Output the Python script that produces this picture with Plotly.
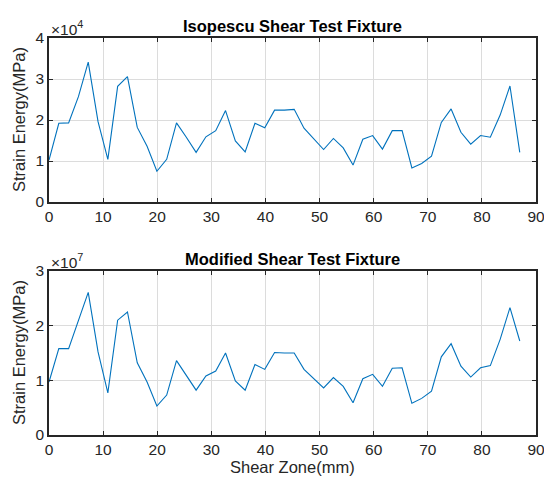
import plotly.graph_objects as go
from plotly.subplots import make_subplots

shear_zone = [0, 1.8125, 3.625, 5.4375, 7.25, 9.0625, 10.875, 12.6875, 14.5, 16.3125,
              18.125, 19.9375, 21.75, 23.5625, 25.375, 27.1875, 29.0, 30.8125, 32.625, 34.4375,
              36.25, 38.0625, 39.875, 41.6875, 43.5, 45.3125, 47.125, 48.9375, 50.75, 52.5625,
              54.375, 56.1875, 58.0, 59.8125, 61.625, 63.4375, 65.25, 67.0625, 68.875, 70.6875,
              72.5, 74.3125, 76.125, 77.9375, 79.75, 81.5625, 83.375, 85.1875, 87.0]

# Strain energy, Isopescu fixture (x 1e4 MPa)
isopescu_e4 = [1.02, 1.92, 1.93, 2.57, 3.41, 1.96, 1.04, 2.82, 3.06, 1.82,
               1.36, 0.75, 1.04, 1.93, 1.58, 1.21, 1.59, 1.74, 2.23, 1.49,
               1.22, 1.92, 1.81, 2.24, 2.24, 2.26, 1.80, 1.53, 1.28, 1.55,
               1.32, 0.90, 1.53, 1.62, 1.29, 1.74, 1.74, 0.83, 0.94, 1.12,
               1.94, 2.27, 1.70, 1.41, 1.62, 1.58, 2.12, 2.83, 1.21]

# Strain energy, modified fixture (x 1e7 MPa)
modified_e7 = [0.97, 1.58, 1.58, 2.10, 2.61, 1.52, 0.77, 2.10, 2.25, 1.32,
               0.97, 0.53, 0.73, 1.36, 1.09, 0.82, 1.08, 1.17, 1.50, 0.99,
               0.82, 1.29, 1.20, 1.51, 1.50, 1.50, 1.20, 1.03, 0.86, 1.05,
               0.89, 0.59, 1.03, 1.11, 0.89, 1.22, 1.23, 0.58, 0.67, 0.80,
               1.43, 1.67, 1.26, 1.06, 1.23, 1.27, 1.75, 2.33, 1.72]

x_ticks = [0, 10, 20, 30, 40, 50, 60, 70, 80, 90]
y1_ticks = [0, 1, 2, 3, 4]
y2_ticks = [0, 1, 2, 3]

titles = ["Isopescu Shear Test Fixture", "Modified Shear Test Fixture"]
ylabel = "Strain Energy(MPa)"
xlabel = "Shear Zone(mm)"

LINE = "#0072BD"
AX = "#262626"
GRID = "#dcdcdc"
FONT = "Liberation Sans, Arial, sans-serif"
TICK_SIZE = 15.5
LABEL_SIZE = 16.5

fig = make_subplots(rows=2, cols=1)

fig.add_trace(go.Scatter(x=shear_zone, y=[v * 1e4 for v in isopescu_e4], mode="lines",
                         line=dict(color=LINE, width=1.1), showlegend=False), row=1, col=1)
fig.add_trace(go.Scatter(x=shear_zone, y=[v * 1e7 for v in modified_e7], mode="lines",
                         line=dict(color=LINE, width=1.1), showlegend=False), row=2, col=1)

H = 485
T, B = 38, 50
ph = H - T - B
def py(p):
    return (H - B - p) / ph

common_x = dict(range=[0, 90], tickvals=x_ticks, ticktext=[str(t) for t in x_ticks],
                showline=True, linecolor=AX, linewidth=1.5, mirror="allticks",
                ticks="inside", ticklen=4, tickcolor=AX, tickwidth=1.2,
                showgrid=True, gridcolor=GRID, gridwidth=1, zeroline=False, automargin=False,
                ticklabeloverflow="allow",
                tickfont=dict(size=TICK_SIZE, color=AX, family=FONT))
common_y = dict(showline=True, linecolor=AX, linewidth=1.5, mirror="allticks",
                ticks="inside", ticklen=4, tickcolor=AX, tickwidth=1.2,
                showgrid=True, gridcolor=GRID, gridwidth=1, zeroline=False, automargin=False,
                ticklabeloverflow="allow",
                tickfont=dict(size=TICK_SIZE, color=AX, family=FONT))

fig.update_xaxes(**common_x, domain=[0, 1], row=1, col=1)
fig.update_xaxes(**common_x, domain=[0, 1], row=2, col=1)
fig.update_yaxes(**common_y, range=[0, 4e4], tickvals=[t * 1e4 for t in y1_ticks],
                 ticktext=[str(t) for t in y1_ticks], domain=[py(202), py(38)], row=1, col=1)
fig.update_yaxes(**common_y, range=[0, 3e7], tickvals=[t * 1e7 for t in y2_ticks],
                 ticktext=[str(t) for t in y2_ticks], domain=[py(435), py(271)], row=2, col=1)

ann = []
ann.append(dict(text="<b>" + titles[0] + "</b>", x=0.5, y=py(38), xref="paper", yref="paper",
                xanchor="center", yanchor="bottom", yshift=1, showarrow=False,
                font=dict(size=LABEL_SIZE, color="#000", family=FONT)))
ann.append(dict(text="<b>" + titles[1] + "</b>", x=0.5, y=py(271), xref="paper", yref="paper",
                xanchor="center", yanchor="bottom", yshift=1, showarrow=False,
                font=dict(size=LABEL_SIZE, color="#000", family=FONT)))
ann.append(dict(text="×10<sup>4</sup>", x=0, y=py(38), xref="paper", yref="paper",
                xanchor="left", yanchor="bottom", yshift=-2, showarrow=False,
                font=dict(size=TICK_SIZE, color=AX, family=FONT)))
ann.append(dict(text="×10<sup>7</sup>", x=0, y=py(271), xref="paper", yref="paper",
                xanchor="left", yanchor="bottom", yshift=-2, showarrow=False,
                font=dict(size=TICK_SIZE, color=AX, family=FONT)))
for yc in [(38 + 202) / 2, (271 + 435) / 2]:
    ann.append(dict(text=ylabel, x=0, y=py(yc), xref="paper", yref="paper", textangle=-90,
                    xanchor="center", yanchor="middle", xshift=-30, showarrow=False,
                    font=dict(size=LABEL_SIZE, color=AX, family=FONT)))
ann.append(dict(text=xlabel, x=0.5, y=py(467), xref="paper", yref="paper",
                xanchor="center", yanchor="middle", showarrow=False,
                font=dict(size=LABEL_SIZE, color=AX, family=FONT)))

fig.update_layout(width=544, height=485, margin=dict(l=49, r=8, t=T, b=B),
                  paper_bgcolor="white", plot_bgcolor="white", annotations=ann,
                  font=dict(family=FONT))

fig.write_html("out.html", config={"displayModeBar": False},
               post_script="document.body.style.margin='0';document.body.style.overflow='hidden';")
